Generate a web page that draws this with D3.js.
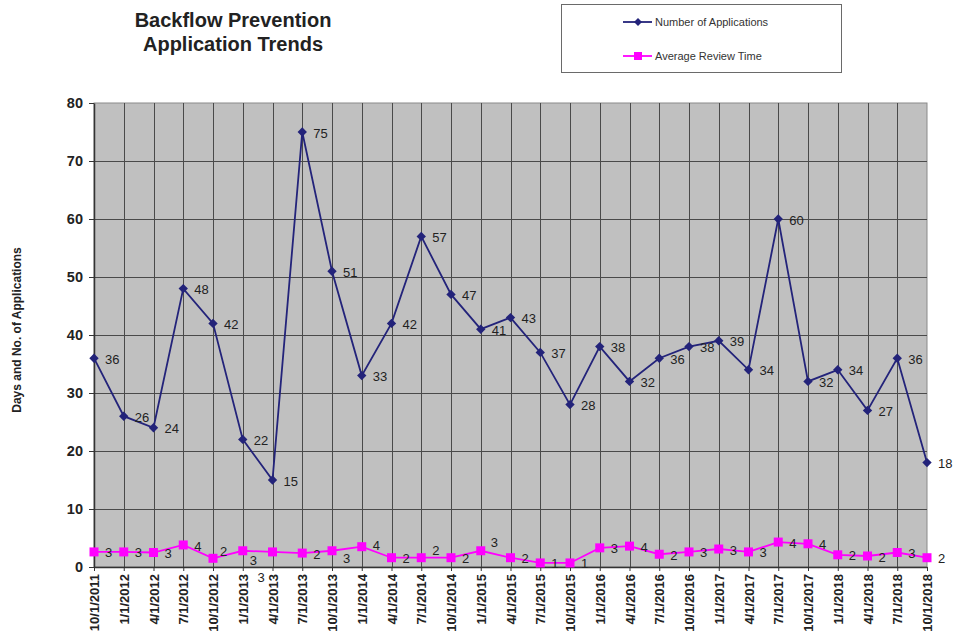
<!DOCTYPE html>
<html>
<head>
<meta charset="utf-8">
<script src="https://cdn.jsdelivr.net/npm/d3@7/dist/d3.min.js"></script>
<style>
  html, body { margin: 0; padding: 0; background: #fff; }
  svg { display: block; font-family: "Liberation Sans", Arial, sans-serif; }
</style>
</head>
<body>
<svg id="chart" width="956" height="638"></svg>
<script>
// ---- Data ----
const dates = ["10/1/2011","1/1/2012","4/1/2012","7/1/2012","10/1/2012","1/1/2013","4/1/2013","7/1/2013",
  "10/1/2013","1/1/2014","4/1/2014","7/1/2014","10/1/2014","1/1/2015","4/1/2015","7/1/2015",
  "10/1/2015","1/1/2016","4/1/2016","7/1/2016","10/1/2016","1/1/2017","4/1/2017","7/1/2017",
  "10/1/2017","1/1/2018","4/1/2018","7/1/2018","10/1/2018"];
const numberOfApplications = [36,26,24,48,42,22,15,75,51,33,42,57,47,41,43,37,28,38,32,36,38,39,34,60,32,34,27,36,18];
const averageReviewTime = [2.6,2.6,2.5,3.8,1.5,2.8,2.6,2.4,2.8,3.5,1.6,1.6,1.6,2.8,1.6,0.7,0.7,3.3,3.6,2.2,2.6,3.1,2.6,4.3,4.0,2.1,1.9,2.5,1.6];
const yTicks = [0,10,20,30,40,50,60,70,80];
const seriesNames = ["Number of Applications", "Average Review Time"];

// ---- Layout ----
const svg = d3.select("#chart");
const plot = { left: 94, right: 927, top: 103, bottom: 567 };
const x = d3.scalePoint().domain(dates).range([plot.left, plot.right]);
const y = d3.scaleLinear().domain([0, 80]).range([plot.bottom, plot.top]);

const blue = "#23237a", pink = "#ff00ff";

// background
svg.append("rect").attr("x", plot.left).attr("y", plot.top)
  .attr("width", plot.right - plot.left).attr("height", plot.bottom - plot.top)
  .attr("fill", "#c0c0c0").attr("stroke", "#8a8a8a").attr("stroke-width", 1);

// gridlines
svg.append("g").selectAll("line").data(yTicks.filter(d => d > 0 && d < 80)).join("line")
  .attr("x1", plot.left).attr("x2", plot.right)
  .attr("y1", d => y(d) + 0.5).attr("y2", d => y(d) + 0.5)
  .attr("stroke", "#4a4a4a").attr("stroke-width", 1);
svg.append("g").selectAll("line").data(dates.slice(1, -1)).join("line")
  .attr("x1", d => Math.round(x(d)) + 0.5).attr("x2", d => Math.round(x(d)) + 0.5)
  .attr("y1", plot.top).attr("y2", plot.bottom)
  .attr("stroke", "#4a4a4a").attr("stroke-width", 1);

// y axis
const yAxis = svg.append("g").attr("transform", `translate(${plot.left},0)`)
  .call(d3.axisLeft(y).tickValues(yTicks).tickSize(5).tickPadding(6).tickSizeOuter(0));
yAxis.select(".domain").attr("stroke", "#333").attr("stroke-width", 1.5);
yAxis.selectAll(".tick line").attr("stroke", "#333");
yAxis.selectAll("text").attr("font-size", "14.5px").attr("font-weight", "bold")
  .attr("fill", "#222").attr("font-family", "Liberation Sans, Arial, sans-serif");

// x axis
const xAxis = svg.append("g").attr("transform", `translate(0,${plot.bottom})`)
  .call(d3.axisBottom(x).tickSize(4).tickSizeOuter(0));
xAxis.select(".domain").attr("stroke", "#333").attr("stroke-width", 1.5);
xAxis.selectAll(".tick line").attr("stroke", "#333");
xAxis.selectAll("text")
  .attr("font-size", "13px").attr("font-weight", "bold").attr("fill", "#222")
  .attr("font-family", "Liberation Sans, Arial, sans-serif")
  .attr("text-anchor", "end")
  .attr("transform", "rotate(-90)")
  .attr("x", -7).attr("y", 0).attr("dy", "0.35em");

// lines
const lineFor = vals => d3.line().x((d, i) => x(dates[i])).y(d => y(d))(vals);
svg.append("path").attr("d", lineFor(numberOfApplications))
  .attr("fill", "none").attr("stroke", blue).attr("stroke-width", 1.8);
svg.append("path").attr("d", lineFor(averageReviewTime))
  .attr("fill", "none").attr("stroke", pink).attr("stroke-width", 1.8);

// markers
svg.append("g").selectAll("path").data(numberOfApplications).join("path")
  .attr("d", d3.symbol(d3.symbolDiamond2, 56)())
  .attr("transform", (d, i) => `translate(${x(dates[i])},${y(d)})`)
  .attr("fill", blue);
svg.append("g").selectAll("rect").data(averageReviewTime).join("rect")
  .attr("x", (d, i) => x(dates[i]) - 4.5).attr("y", d => y(d) - 4.5)
  .attr("width", 9).attr("height", 9).attr("fill", pink);

// data labels
svg.append("g").selectAll("text").data(numberOfApplications).join("text")
  .attr("x", (d, i) => x(dates[i]) + 11).attr("y", d => y(d) + 1)
  .attr("dy", "0.35em").attr("font-size", "13px").attr("fill", "#222")
  .text(d => d);

const pinkLabelShift = { 4: [-4, -8], 5: [-4, 9], 6: [-26, 25], 8: [0, 7], 9: [0, -2], 11: [0, -8], 13: [-1, -9] };
svg.append("g").selectAll("text").data(averageReviewTime).join("text")
  .attr("x", (d, i) => x(dates[i]) + 11 + (pinkLabelShift[i] ? pinkLabelShift[i][0] : 0))
  .attr("y", (d, i) => y(d) + 1 + (pinkLabelShift[i] ? pinkLabelShift[i][1] : 0))
  .attr("dy", "0.35em").attr("font-size", "13px").attr("fill", "#222")
  .text(d => Math.round(d));

// title
const title = svg.append("text").attr("x", 233).attr("y", 27).attr("text-anchor", "middle")
  .attr("font-size", "20px").attr("font-weight", "bold").attr("fill", "#222");
title.append("tspan").attr("x", 233).text("Backflow Prevention");
title.append("tspan").attr("x", 233).attr("dy", 24).text("Application Trends");

// y axis title
svg.append("text").attr("transform", "translate(21,330) rotate(-90)")
  .attr("text-anchor", "middle").attr("font-size", "12px").attr("font-weight", "bold")
  .attr("fill", "#222").text("Days and No. of Applications");

// legend
const lg = svg.append("g");
lg.append("rect").attr("x", 561.5).attr("y", 4.5).attr("width", 280).attr("height", 68)
  .attr("fill", "#fff").attr("stroke", "#6a6a6a").attr("stroke-width", 1);
const legendRows = [
  { name: seriesNames[0], color: blue, y: 22, shape: "diamond" },
  { name: seriesNames[1], color: pink, y: 56, shape: "square" }
];
legendRows.forEach(r => {
  lg.append("line").attr("x1", 623).attr("x2", 652).attr("y1", r.y).attr("y2", r.y)
    .attr("stroke", r.color).attr("stroke-width", 1.8);
  if (r.shape === "diamond") {
    lg.append("path").attr("d", d3.symbol(d3.symbolDiamond2, 40)())
      .attr("transform", `translate(638,${r.y})`).attr("fill", r.color);
  } else {
    lg.append("rect").attr("x", 634).attr("y", r.y - 4).attr("width", 8).attr("height", 8).attr("fill", r.color);
  }
  lg.append("text").attr("x", 655).attr("y", r.y).attr("dy", "0.35em")
    .attr("font-size", "11px").attr("fill", "#333").text(r.name);
});
</script>
</body>
</html>
